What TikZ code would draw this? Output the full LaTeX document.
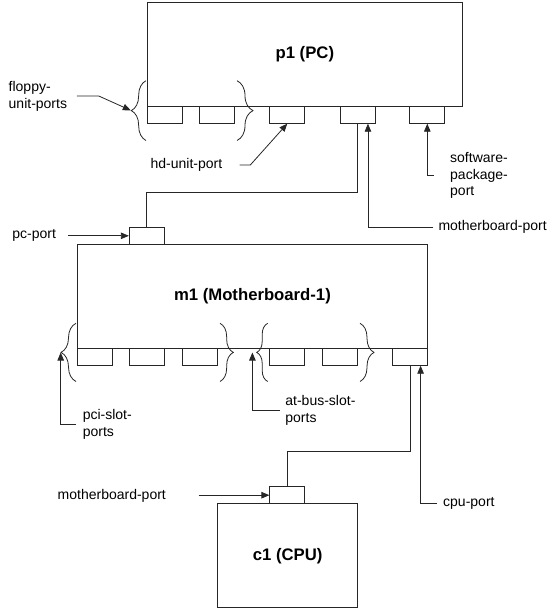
\documentclass[tikz,border=0pt]{standalone}
\usepackage{fontspec}
\setmainfont{Liberation Sans}
\usetikzlibrary{arrows.meta,calc,decorations.pathreplacing}

\tikzset{
  ln/.style={draw=black!85, line width=0.8pt},
  unit/.style={ln, inner sep=0pt, font=\fontsize{16.7}{20}\selectfont\bfseries},
  port/.style={ln, inner sep=0pt, minimum width=35pt, minimum height=17.2pt},
  lbl/.style={inner sep=0pt, anchor=west, align=left, font=\fontsize{14}{16.8}\selectfont},
  arr/.style={ln, -{Triangle[length=8pt,width=6.5pt]}},
  grp/.style={ln, decorate, decoration={brace, amplitude=#1}},
}

\begin{document}
\begin{tikzpicture}[x=1pt,y=-1pt]
\useasboundingbox (0,0) rectangle (546,615);

% PC with its ports
\node[unit, minimum width=315pt, minimum height=103.3pt] (p1) at (304.85,54.35) {p1 (PC)};
\node[port] (pf1) at (164.9,114.65) {};
\node[port] (pf2) at (217.1,114.65) {};
\node[port] (phd) at (287.3,114.65) {};
\node[port] (pmb) at (357.45,114.65) {};
\node[port] (psw) at (427.3,114.65) {};

% motherboard with its ports
\node[port] (pcport) at (146.75,235.8) {};
\node[unit, minimum width=350.3pt, minimum height=104pt] (m1) at (252.45,296.3) {m1 (Motherboard-1)};
\node[port] (ma) at (94.7,356.65) {};
\node[port] (mb) at (146.75,356.65) {};
\node[port] (mc) at (199.7,356.65) {};
\node[port] (md) at (287.3,356.65) {};
\node[port] (me) at (339.85,356.65) {};
\node[port] (mf) at (410,356.65) {};

% CPU with its port
\node[port] (cpuport) at (287.3,495.2) {};
\node[unit, minimum width=140pt, minimum height=104pt] (c1) at (287.6,555.7) {c1 (CPU)};

% port groups
\draw[grp=14.7pt] (146,140.5) -- (146,80.7);
\draw[grp=16pt] (237,80.7) -- (237,140.5);
\draw[grp=15pt] (76,381.5) -- (76,323.3);
\draw[grp=13.3pt] (220,323.3) -- (220,381.5);
\draw[grp=11pt] (267.7,381.5) -- (267.7,323.3);
\draw[grp=14pt] (360,323.3) -- (360,381.5);
\coordinate (floppytip) at (130.8,110.4);
\coordinate (pcitip) at (60.7,352.5);
\coordinate (attip) at (252.4,352.5);

% labels
\node[lbl] (floppylbl) at (8.5,96.5) {floppy-\\unit-ports};
\node[lbl] (hdlbl) at (150.4,165) {hd-unit-port};
\node[lbl] (swlbl) at (450,175.5) {software-\\package-\\port};
\node[lbl] (mbtoplbl) at (438.3,227.3) {motherboard-port};
\node[lbl] (pclbl) at (12.2,235) {pc-port};
\node[lbl] (pcilbl) at (82.6,424.5) {pci-slot-\\ports};
\node[lbl] (atlbl) at (285.2,410.5) {at-bus-slot-\\ports};
\node[lbl] (mbcpulbl) at (57.5,495.7) {motherboard-port};
\node[lbl] (cpulbl) at (443,503.8) {cpu-port};

% connections between ports
\coordinate (pbend) at (357.45,192.7);
\draw[ln] (pmb.south) -- (pbend) -| (pcport.north);
\coordinate (mbend) at (410,451.7);
\draw[ln] (mf.south) -- (mbend) -| (cpuport.north);

% label arrows
\draw[arr] ($(floppylbl.east)+(9.7,-0.5)$) -- ++(21.8,0) -- (floppytip);
\draw[arr] ($(hdlbl.east)+(17.2,0)$) -- ++(10.7,0) -- (phd.south);
\draw[arr] ($(swlbl.west)+(-16.5,0)$) -| (psw.south);
\draw[arr] ($(mbtoplbl.west)+(-5,0)$) -| ($(pmb.south)+(10.5,0)$);
\draw[arr] ($(pcport.west)+(-60.5,0)$) -- (pcport.west);
\draw[arr] ($(pcilbl.west)+(-6.6,0)$) -| (pcitip);
\draw[arr] ($(atlbl.west)+(-5,0)$) -| (attip);
\draw[arr] ($(cpuport.west)+(-70.7,0)$) -- (cpuport.west);
\draw[arr] ($(cpulbl.west)+(-6,0)$) -| ($(mf.south)+(10.6,0)$);
\end{tikzpicture}
\end{document}
